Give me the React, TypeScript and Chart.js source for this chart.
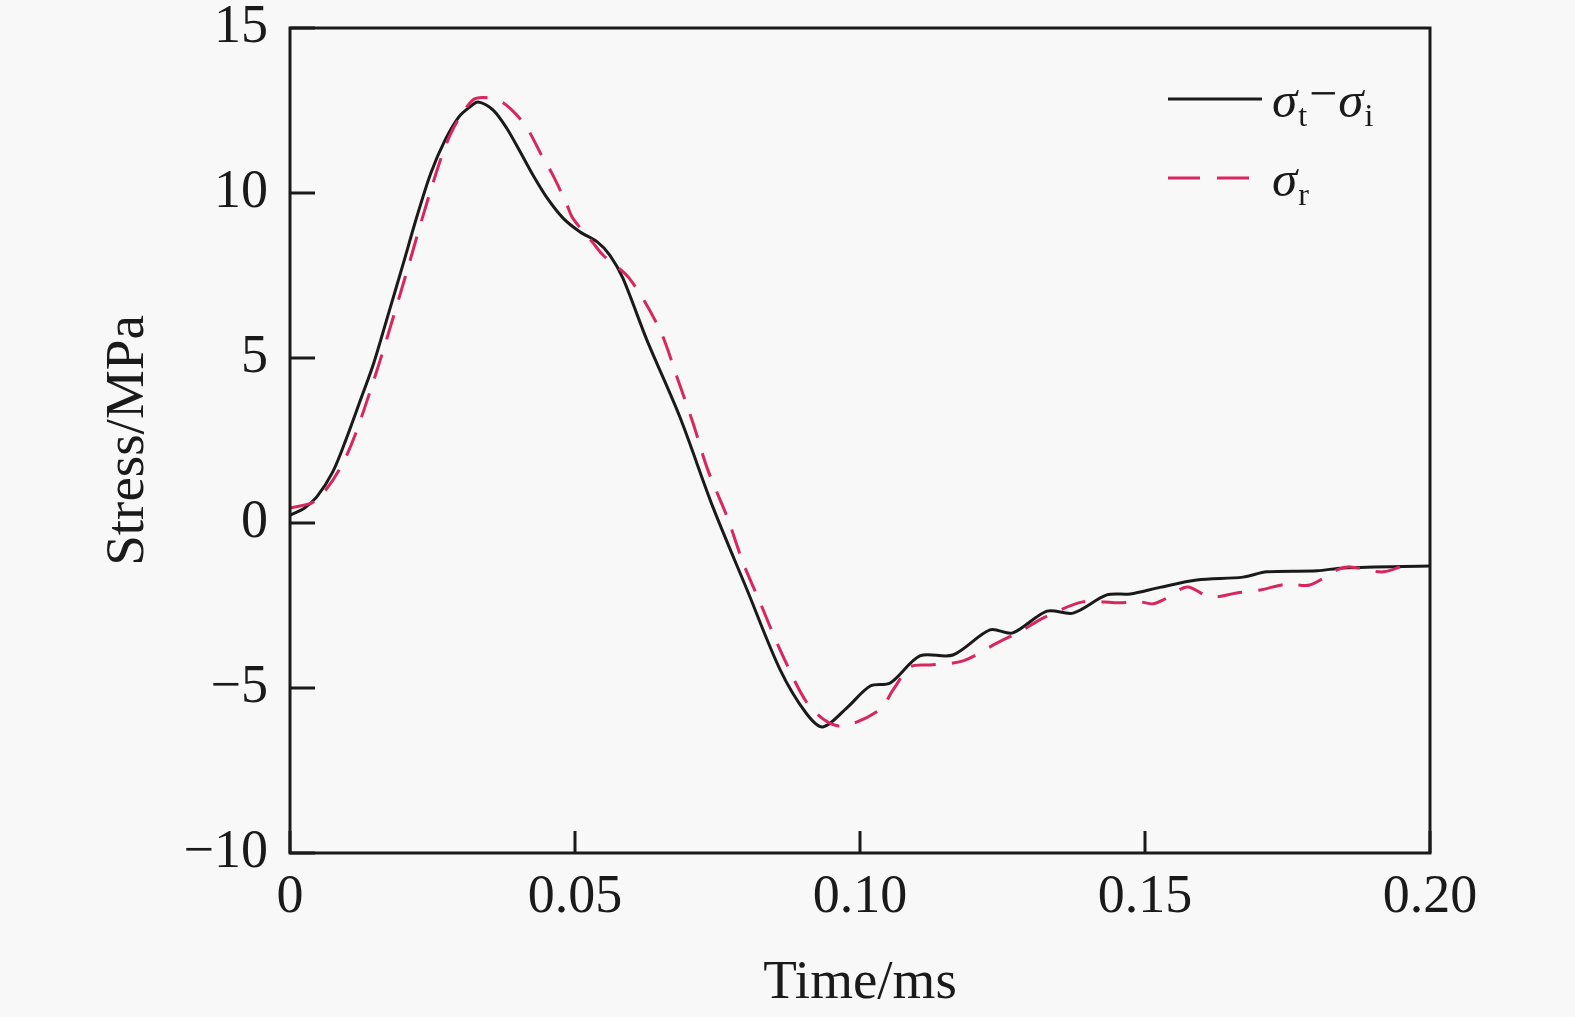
import { useEffect, useRef } from "react"
import { Chart, registerables } from "chart.js"

Chart.register(...registerables)

// σt − σi (solid black)
const timeTI = [
  0, 0.0025, 0.0047, 0.0075, 0.0098, 0.0122, 0.0147, 0.0172, 0.0197, 0.0222, 0.0247, 0.0272, 0.0296, 0.0315,
  0.033, 0.0356, 0.038, 0.0404, 0.0426, 0.0451, 0.0479, 0.0509, 0.0539, 0.0561, 0.0584, 0.0626, 0.0684, 0.0742,
  0.0802, 0.086, 0.0905, 0.0935, 0.0977, 0.1018, 0.1053, 0.1105, 0.1163, 0.1228, 0.1268, 0.1328,
  0.1374, 0.1433, 0.1474, 0.1526, 0.1591, 0.1672, 0.1714, 0.1802, 0.1847, 0.2,
]
const stressTI = [
  0.24, 0.45, 0.79, 1.55, 2.52, 3.65, 4.85, 6.3, 7.76, 9.25, 10.6, 11.6, 12.3, 12.6, 12.76, 12.52, 11.97,
  11.24, 10.55, 9.85, 9.24, 8.82, 8.52, 8.12, 7.42, 5.55, 3.21, 0.48, -2.03, -4.45, -5.75, -6.18, -5.6,
  -4.94, -4.85, -4.03, -4.0, -3.24, -3.33, -2.67, -2.73, -2.18, -2.15, -1.95, -1.73, -1.64, -1.48, -1.45,
  -1.36, -1.3,
]

// σr (dashed red)
const timeR = [
  0, 0.0047, 0.0098, 0.0147, 0.0197, 0.0247, 0.0281, 0.0321, 0.0351, 0.0375, 0.0398, 0.0416, 0.0444, 0.0461,
  0.0486, 0.0496, 0.0532, 0.0549, 0.0596, 0.0649, 0.0679, 0.0707, 0.0733, 0.0767, 0.0795, 0.0825, 0.086,
  0.0907, 0.0945, 0.0975, 0.1035, 0.1058, 0.1088, 0.1123, 0.1181, 0.124, 0.1286, 0.1321, 0.1391, 0.1451,
  0.1491, 0.1514, 0.1532, 0.1574, 0.1614, 0.1661, 0.1702, 0.1749, 0.1789, 0.1837, 0.186, 0.1918, 0.1965,
]
const stressR = [
  0.45, 0.7, 2.0, 4.33, 7.15, 10.09, 11.76, 12.82, 12.88, 12.72, 12.36, 11.97, 11.06, 10.55, 9.64, 9.24, 8.48,
  8.12, 7.4, 5.85, 4.42, 3.03, 1.61, 0.18, -1.21, -2.42, -3.85, -5.45, -6.05, -6.15, -5.65, -5.06, -4.36,
  -4.3, -4.18, -3.64, -3.24, -2.88, -2.39, -2.42, -2.39, -2.45, -2.33, -1.94, -2.24, -2.12, -2.03, -1.85,
  -1.88, -1.42, -1.33, -1.48, -1.21,
]

const xTicks = [0, 0.05, 0.1, 0.15, 0.2]
const xTickLabels = ["0", "0.05", "0.10", "0.15", "0.20"]
const yTicks = [-10, -5, 0, 5, 10, 15]
const yTickLabels = ["−10", "−5", "0", "5", "10", "15"]

const SERIF = '"Liberation Serif", "Times New Roman", serif'
const INK = "#1a1a1a"
const RED = "#d8265e"
const BG = "#f8f8f8"

// frame, inward ticks and the legend with subscripts
const framePlugin = {
  id: "frame",
  beforeDraw(chart: any) {
    const { ctx, width, height } = chart
    ctx.save()
    ctx.fillStyle = BG
    ctx.fillRect(0, 0, width, height)
    ctx.restore()
  },
  afterDraw(chart: any) {
    const { ctx, chartArea: a, scales } = chart
    ctx.save()
    ctx.strokeStyle = INK
    ctx.lineWidth = 3
    ctx.strokeRect(a.left, a.top, a.right - a.left, a.bottom - a.top)

    ctx.beginPath()
    for (const v of yTicks) {
      const y = scales.y.getPixelForValue(v)
      ctx.moveTo(a.left, y)
      ctx.lineTo(a.left + 25, y)
    }
    for (const v of xTicks) {
      const x = scales.x.getPixelForValue(v)
      ctx.moveTo(x, a.bottom)
      ctx.lineTo(x, a.bottom - 22)
    }
    ctx.stroke()

    // legend
    const lx = a.right - 262
    const rows = [
      { y: a.top + 71, color: INK, dash: [] as number[], len: 94, parts: [["σ", "t"], ["σ", "i"]] },
      { y: a.top + 150, color: RED, dash: [32, 17], len: 81, parts: [["σ", "r"]] },
    ]
    for (const row of rows) {
      ctx.strokeStyle = row.color
      ctx.lineWidth = 3
      ctx.setLineDash(row.dash)
      ctx.beginPath()
      ctx.moveTo(lx, row.y)
      ctx.lineTo(lx + row.len, row.y)
      ctx.stroke()
      ctx.setLineDash([])

      ctx.fillStyle = INK
      ctx.textBaseline = "alphabetic"
      ctx.textAlign = "left"
      let x = lx + 104
      const base = row.y + 18
      row.parts.forEach(([sym, sub], i) => {
        if (i > 0) {
          ctx.font = `50px ${SERIF}`
          ctx.fillText("−", x + 1, base - 7)
          x += ctx.measureText("−").width + 2
        }
        ctx.font = `italic 51px ${SERIF}`
        ctx.fillText(sym, x, base)
        x += ctx.measureText(sym).width + 1
        ctx.font = `32px ${SERIF}`
        ctx.fillText(sub, x, base + 9)
        x += ctx.measureText(sub).width + 1
      })
    }
    ctx.restore()
  },
}

export default function App() {
  const chartRef = useRef<HTMLCanvasElement>(null)
  const chartInstance = useRef<Chart | null>(null)

  useEffect(() => {
    if (!chartRef.current) return
    if (chartInstance.current) chartInstance.current.destroy()

    const tickFont = { family: SERIF, size: 54, lineHeight: 1 }
    const titleFont = { family: SERIF, size: 55 }

    chartInstance.current = new Chart(chartRef.current, {
      type: "line",
      data: {
        datasets: [
          {
            label: "σr",
            data: timeR.map((t, i) => ({ x: t, y: stressR[i] })),
            borderColor: RED,
            borderWidth: 3,
            borderDash: [25, 16],
            pointRadius: 0,
            tension: 0.3,
          },
          {
            label: "σt−σi",
            data: timeTI.map((t, i) => ({ x: t, y: stressTI[i] })),
            borderColor: INK,
            borderWidth: 3,
            pointRadius: 0,
            tension: 0.3,
          },
        ],
      },
      options: {
        animation: false,
        responsive: true,
        maintainAspectRatio: false,
        layout: { padding: { left: 0, right: 145, top: 28, bottom: 0 } },
        scales: {
          x: {
            type: "linear",
            min: 0,
            max: 0.2,
            afterBuildTicks: (s: any) => {
              s.ticks = xTicks.map((v) => ({ value: v }))
            },
            afterFit: (s: any) => {
              s.height = 164
              s.paddingLeft = 0
              s.paddingRight = 0
            },
            grid: { display: false, drawTicks: false },
            border: { display: false },
            ticks: {
              padding: 18,
              color: INK,
              font: tickFont,
              maxRotation: 0,
              callback: (_v: any, i: number) => xTickLabels[i],
            },
            title: {
              display: true,
              text: "Time/ms",
              color: INK,
              font: titleFont,
              padding: { top: 0, bottom: 0 },
            },
          },
          y: {
            type: "linear",
            min: -10,
            max: 15,
            afterBuildTicks: (s: any) => {
              s.ticks = yTicks.map((v) => ({ value: v }))
            },
            afterFit: (s: any) => {
              s.width = 290
              s.paddingTop = 0
              s.paddingBottom = 0
            },
            grid: { display: false, drawTicks: false },
            border: { display: false },
            ticks: {
              padding: 22,
              color: INK,
              font: tickFont,
              callback: (_v: any, i: number) => yTickLabels[i],
            },
            title: {
              display: true,
              text: "Stress/MPa",
              color: INK,
              font: titleFont,
              padding: { top: 96, bottom: 0 },
            },
          },
        },
        plugins: {
          legend: { display: false },
          tooltip: { enabled: false },
        },
      },
      plugins: [framePlugin],
    })

    return () => {
      if (chartInstance.current) {
        chartInstance.current.destroy()
        chartInstance.current = null
      }
    }
  }, [])

  return (
    <div style={{ position: "fixed", left: 0, top: 0, width: 1575, height: 1017, background: BG }}>
      <canvas ref={chartRef} />
    </div>
  )
}
